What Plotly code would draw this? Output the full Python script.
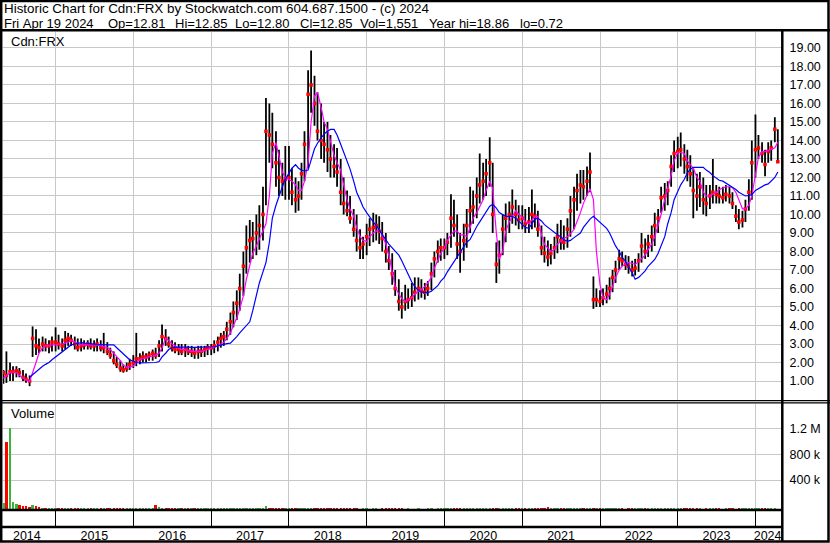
import plotly.graph_objects as go
import pandas as pd

# ---------------- data (semi-monthly bars, May 2014 .. Apr 2024) ----------------
dates = pd.date_range("2014-05-01", periods=240, freq="SMS")

low_2014 = [0.85, 0.9, 1.0, 1.0, 1.2, 1.2, 1.0, 0.9, 0.72, 2.3, 2.4, 2.5, 2.6, 2.6, 2.5, 2.6]
high_2014 = [1.6, 2.6, 2.0, 1.8, 1.8, 1.7, 1.6, 1.4, 1.3, 3.95, 3.8, 3.3, 3.4, 3.3, 3.2, 3.4]
close_2014 = [1.45, 1.3, 1.5, 1.5, 1.55, 1.45, 1.2, 1.1, 1.0, 3.3, 2.9, 2.8, 3.0, 2.9, 2.9, 3.1]

low_2015 = [2.6, 2.7, 2.6, 2.7, 2.9, 2.9, 2.7, 2.6, 2.6, 2.7, 2.7, 2.7, 2.6, 2.6, 2.6, 2.5, 2.4, 2.2, 1.9, 1.7, 1.5, 1.45, 1.5, 1.6]
high_2015 = [3.9, 3.5, 3.3, 3.7, 3.6, 3.5, 3.4, 3.3, 3.3, 3.2, 3.2, 3.3, 3.2, 3.3, 3.2, 3.6, 3.1, 2.8, 2.6, 2.3, 2.1, 1.9, 2.0, 2.2]
close_2015 = [3.1, 3.0, 2.9, 3.2, 3.3, 3.2, 3.0, 2.8, 2.9, 2.95, 3.0, 2.9, 2.9, 3.0, 2.8, 2.8, 2.6, 2.4, 2.1, 1.9, 1.7, 1.6, 1.7, 1.9]

low_2016 = [1.7, 1.8, 1.9, 2.0, 2.0, 2.1, 2.1, 2.2, 2.3, 2.6, 2.9, 2.8, 2.6, 2.5, 2.4, 2.4, 2.3, 2.4, 2.3, 2.2, 2.2, 2.3, 2.3, 2.4]
high_2016 = [2.4, 3.6, 2.5, 2.6, 2.5, 2.6, 2.7, 2.8, 3.2, 4.05, 3.8, 3.4, 3.2, 3.1, 3.0, 3.0, 3.0, 2.9, 2.9, 2.8, 2.9, 2.9, 2.9, 3.0]
close_2016 = [2.0, 2.2, 2.2, 2.3, 2.3, 2.4, 2.5, 2.4, 2.9, 3.4, 3.3, 3.0, 2.8, 2.7, 2.7, 2.6, 2.7, 2.6, 2.6, 2.5, 2.6, 2.6, 2.7, 2.8]

low_2017 = [2.4, 2.5, 2.6, 2.8, 2.9, 3.2, 3.5, 3.9, 4.3, 4.8, 5.6, 6.8, 7.4, 7.6, 7.8, 8.1, 8.6, 10.5, 12.8, 12.5, 11.5, 11.0, 11.0, 10.8]
high_2017 = [3.0, 3.2, 3.4, 3.6, 3.7, 4.2, 4.7, 5.3, 5.9, 6.8, 8.0, 9.4, 9.7, 9.6, 10.0, 10.5, 11.5, 16.3, 16.0, 15.5, 14.5, 13.5, 12.8, 13.7]
close_2017 = [2.8, 2.9, 3.1, 3.3, 3.4, 3.8, 4.2, 4.7, 5.2, 6.0, 7.2, 8.2, 8.6, 8.7, 9.0, 9.4, 10.0, 14.5, 14.3, 13.8, 12.8, 12.0, 11.8, 11.9]

low_2018 = [10.8, 10.5, 10.1, 10.2, 10.8, 11.8, 12.5, 15.5, 14.8, 14.0, 13.0, 12.8, 12.3, 12.0, 12.0, 11.5, 10.5, 10.0, 9.9, 9.5, 8.8, 8.0, 7.6, 7.6]
high_2018 = [13.7, 12.5, 12.0, 11.8, 12.8, 14.5, 17.8, 18.86, 17.5, 16.6, 16.0, 15.0, 15.0, 14.3, 13.8, 13.6, 13.0, 12.0, 11.3, 11.0, 10.3, 10.0, 9.2, 8.8]
close_2018 = [12.0, 11.2, 10.8, 11.0, 12.2, 13.8, 16.5, 17.0, 16.0, 14.5, 14.0, 13.8, 13.5, 13.0, 12.6, 12.3, 11.2, 10.6, 10.2, 9.8, 9.2, 8.6, 8.2, 8.4]

low_2019 = [7.8, 8.3, 8.5, 8.6, 8.4, 8.0, 7.4, 7.0, 6.2, 5.6, 4.8, 4.37, 4.8, 4.9, 5.0, 5.3, 5.4, 5.5, 5.4, 5.6, 5.9, 6.6, 7.4, 7.5]
high_2019 = [9.5, 9.8, 10.1, 10.0, 9.9, 9.6, 9.0, 8.3, 7.9, 7.0, 6.5, 5.8, 6.2, 6.0, 6.3, 6.6, 6.6, 6.5, 6.3, 6.4, 7.4, 8.0, 8.6, 8.7]
close_2019 = [8.8, 9.2, 9.3, 9.4, 9.1, 8.7, 8.0, 7.5, 6.8, 6.0, 5.3, 5.0, 5.3, 5.4, 5.5, 5.8, 6.0, 5.9, 5.8, 6.0, 6.8, 7.6, 8.0, 8.2]

low_2020 = [7.6, 7.8, 8.2, 8.8, 7.6, 6.85, 7.5, 8.2, 9.0, 9.5, 9.8, 10.6, 10.8, 11.0, 11.5, 9.0, 6.3, 6.8, 7.8, 8.5, 9.0, 9.5, 9.4, 9.2]
high_2020 = [8.7, 9.0, 11.1, 10.8, 10.0, 9.0, 9.5, 10.3, 11.5, 11.3, 12.0, 13.3, 12.8, 13.0, 14.17, 12.8, 8.5, 8.6, 10.0, 10.6, 10.7, 11.35, 10.8, 10.5]
close_2020 = [8.2, 8.5, 9.8, 9.4, 8.4, 8.0, 8.6, 9.4, 10.2, 10.4, 11.0, 11.6, 11.8, 12.2, 12.8, 10.0, 7.3, 7.8, 9.2, 9.8, 10.0, 10.4, 10.0, 9.7]

low_2021 = [9.2, 9.0, 9.0, 9.2, 9.3, 8.8, 7.8, 7.4, 7.2, 7.3, 7.6, 7.9, 8.1, 8.1, 8.2, 8.8, 9.2, 10.2, 10.6, 10.8, 11.0, 11.2, 4.9, 5.0]
high_2021 = [10.5, 10.3, 10.4, 11.35, 10.6, 10.2, 9.4, 8.8, 8.6, 8.4, 8.8, 9.5, 9.7, 9.4, 9.8, 11.0, 11.5, 12.2, 12.4, 12.4, 12.6, 13.35, 6.65, 6.0]
close_2021 = [9.8, 9.5, 9.6, 10.0, 9.9, 9.2, 8.2, 7.9, 7.7, 7.9, 8.2, 8.8, 8.6, 8.5, 9.2, 10.2, 10.8, 11.3, 11.6, 11.5, 11.8, 12.3, 5.4, 5.4]

low_2022 = [5.0, 5.1, 5.2, 5.4, 5.8, 6.3, 7.0, 7.2, 7.0, 6.8, 6.65, 6.7, 6.9, 7.4, 7.6, 7.7, 8.0, 8.3, 9.0, 10.1, 10.2, 10.5, 11.5, 12.3]
high_2022 = [5.9, 6.0, 6.2, 6.6, 7.0, 7.5, 8.1, 8.0, 7.8, 7.75, 7.5, 7.6, 7.9, 9.0, 8.7, 8.9, 9.4, 10.1, 10.3, 11.5, 11.7, 11.8, 13.2, 14.0]
close_2022 = [5.3, 5.5, 5.7, 6.0, 6.6, 7.0, 7.6, 7.5, 7.3, 7.2, 7.0, 7.1, 7.5, 8.3, 8.0, 8.4, 8.8, 9.4, 9.8, 10.9, 11.0, 11.3, 12.6, 13.3]

low_2023 = [12.5, 12.6, 12.2, 11.8, 11.5, 9.8, 10.2, 10.4, 10.0, 9.9, 10.3, 10.6, 10.6, 10.6, 10.6, 10.7, 10.6, 10.3, 9.6, 9.2, 9.3, 9.6, 10.2, 10.8]
high_2023 = [14.2, 14.43, 13.8, 13.5, 13.2, 12.5, 12.2, 12.3, 12.0, 11.6, 11.6, 13.0, 11.6, 11.5, 11.5, 11.6, 11.5, 11.2, 10.5, 10.3, 10.2, 10.8, 11.9, 14.0]
close_2023 = [13.4, 13.5, 13.0, 12.6, 12.2, 11.3, 11.0, 11.5, 10.8, 10.6, 11.0, 11.2, 11.1, 11.0, 10.9, 11.1, 11.0, 10.6, 9.9, 9.6, 9.7, 10.3, 11.2, 12.8]

low_2024 = [12.0, 13.0, 12.8, 12.07, 12.8, 12.9, 13.9, 12.8]
high_2024 = [15.4, 14.3, 13.9, 13.5, 13.9, 14.0, 15.25, 14.6]
close_2024 = [13.5, 13.6, 13.3, 12.7, 13.4, 13.6, 14.6, 12.85]

ma_short_2014 = [1.15, 1.3, 1.45, 1.5, 1.45, 1.3, 1.15, 1.05, 0.97, 1.4, 2.0, 2.5, 2.8, 2.9, 2.9, 2.95]
ma_short_2015 = [2.95, 3.0, 3.0, 3.05, 3.1, 3.2, 3.1, 3.0, 2.95, 2.95, 2.95, 2.95, 2.95, 2.95, 2.9, 2.85, 2.8, 2.7, 2.5, 2.3, 2.1, 1.85, 1.75, 1.75]
ma_short_2016 = [1.8, 2.0, 2.15, 2.2, 2.25, 2.3, 2.35, 2.4, 2.5, 2.8, 3.3, 3.2, 3.0, 2.9, 2.8, 2.7, 2.7, 2.65, 2.6, 2.6, 2.6, 2.6, 2.65, 2.7]
ma_short_2017 = [2.75, 2.8, 2.9, 3.0, 3.1, 3.3, 3.6, 4.0, 4.4, 4.9, 5.6, 6.5, 7.3, 7.9, 8.3, 8.7, 9.1, 9.5, 11.0, 13.3, 13.9, 13.2, 12.3, 12.0]
ma_short_2018 = [11.9, 11.8, 11.6, 11.3, 11.3, 11.8, 12.8, 15.0, 16.4, 16.6, 15.8, 15.0, 14.6, 14.0, 13.2, 12.8, 12.4, 11.6, 10.8, 10.3, 9.9, 9.3, 8.8, 8.6]
ma_short_2019 = [8.55, 8.8, 9.0, 9.1, 9.2, 8.9, 8.4, 7.8, 6.9, 6.1, 5.7, 5.45, 5.3, 5.4, 5.5, 5.7, 5.85, 6.0, 6.1, 6.3, 6.6, 7.1, 7.5, 7.9]
ma_short_2020 = [8.2, 8.6, 8.9, 9.1, 9.1, 8.9, 8.9, 8.8, 9.3, 9.8, 10.1, 10.4, 10.8, 11.3, 11.8, 11.4, 9.0, 7.6, 8.0, 9.1, 9.6, 9.9, 10.2, 10.0]
ma_short_2021 = [9.85, 9.6, 9.5, 9.7, 9.9, 9.9, 8.9, 8.4, 8.2, 8.0, 8.1, 8.4, 8.55, 8.7, 8.8, 8.95, 9.2, 9.6, 10.1, 10.6, 11.0, 11.4, 10.8, 8.0]
ma_short_2022 = [6.2, 5.5, 5.4, 5.7, 6.1, 6.6, 7.0, 7.2, 7.35, 7.4, 7.35, 7.3, 7.45, 7.6, 7.8, 8.1, 8.4, 8.8, 9.4, 10.0, 10.8, 11.4, 12.1, 12.9]
ma_short_2023 = [13.35, 13.35, 13.3, 12.9, 12.7, 12.5, 12.0, 11.8, 11.2, 11.0, 11.0, 11.1, 11.2, 11.35, 11.45, 11.5, 11.5, 11.45, 11.2, 10.8, 10.3, 10.3, 10.5, 11.0]
ma_short_2024 = [12.3, 13.1, 13.4, 13.4, 13.45, 13.5, 13.6, 13.9]

ma_long_2014 = [None, None, None, None, None, None, None, None, 1.2, 1.35, 1.5, 1.65, 1.8, 1.9, 2.0, 2.15]
ma_long_2015 = [2.3, 2.45, 2.6, 2.72, 2.85, 2.95, 3.0, 3.05, 3.07, 3.05, 3.02, 3.0, 3.0, 2.98, 2.97, 2.95, 2.95, 2.95, 2.95, 2.8, 2.6, 2.45, 2.3, 2.15]
ma_long_2016 = [2.05, 2.0, 1.98, 1.98, 1.98, 1.98, 1.98, 2.0, 2.05, 2.3, 2.5, 2.7, 2.8, 2.82, 2.83, 2.83, 2.83, 2.82, 2.82, 2.82, 2.83, 2.83, 2.84, 2.85]
ma_long_2017 = [2.85, 2.85, 2.9, 2.95, 3.0, 3.02, 3.05, 3.2, 3.4, 3.6, 3.8, 4.0, 4.2, 4.8, 5.6, 6.3, 6.9, 7.4, 8.5, 9.8, 10.5, 11.0, 11.5, 11.9]
ma_long_2018 = [12.2, 12.5, 12.7, 12.5, 12.4, 12.35, 12.4, 13.0, 13.55, 13.85, 14.1, 14.35, 14.5, 14.6, 14.6, 14.3, 13.8, 13.4, 12.9, 12.45, 11.8, 11.2, 10.8, 10.4]
ma_long_2019 = [10.1, 9.85, 9.6, 9.4, 9.15, 8.9, 8.65, 8.4, 8.2, 8.0, 7.8, 7.5, 7.1, 6.7, 6.35, 6.1, 5.9, 5.8, 5.78, 5.78, 5.85, 6.0, 6.15, 6.4]
ma_long_2020 = [6.6, 6.9, 7.2, 7.45, 7.7, 8.0, 8.3, 8.5, 8.65, 9.0, 9.35, 9.6, 9.9, 10.2, 10.45, 10.55, 10.35, 10.1, 10.0, 9.9, 9.9, 9.9, 9.8, 9.65]
ma_long_2021 = [9.5, 9.3, 9.25, 9.5, 9.75, 9.8, 9.65, 9.45, 9.3, 9.15, 9.0, 8.9, 8.8, 8.65, 8.55, 8.6, 8.75, 8.85, 9.0, 9.3, 9.55, 9.75, 9.9, 9.75]
ma_long_2022 = [9.55, 9.4, 9.25, 9.0, 8.65, 8.3, 8.0, 7.7, 7.45, 7.2, 6.85, 6.5, 6.6, 6.75, 6.95, 7.2, 7.4, 7.57, 7.9, 8.3, 8.8, 9.5, 10.1, 10.8]
ma_long_2023 = [11.2, 11.6, 11.9, 12.25, 12.45, 12.55, 12.55, 12.55, 12.55, 12.4, 12.27, 12.1, 11.95, 11.85, 11.8, 11.7, 11.6, 11.5, 11.35, 11.2, 11.07, 11.0, 11.03, 11.07]
ma_long_2024 = [11.3, 11.4, 11.5, 11.6, 11.65, 11.8, 12.0, 12.3]

# volume in thousands of shares
vol_2014 = [100, 1050, 1260, 110, 90, 75, 60, 55, 45, 70, 50, 40, 30, 25, 20, 22]
vol_2015 = [18, 20, 15, 22, 14, 12, 15, 10, 12, 14, 10, 12, 9, 11, 8, 12, 10, 14, 10, 9, 12, 8, 10, 14]
vol_2016 = [12, 18, 10, 12, 14, 10, 12, 70, 35, 30, 15, 12, 10, 8, 9, 12, 10, 8, 11, 9, 10, 12, 9, 10]
vol_2017 = [8, 10, 12, 9, 10, 14, 12, 15, 10, 12, 14, 12, 15, 10, 12, 14, 20, 60, 25, 18, 15, 12, 14, 10]
vol_2018 = [12, 10, 9, 11, 12, 15, 25, 20, 14, 12, 10, 9, 8, 10, 9, 8, 10, 9, 8, 10, 9, 8, 7, 8]
vol_2019 = [8, 7, 9, 8, 7, 9, 8, 10, 8, 9, 10, 8, 7, 8, 6, 7, 8, 7, 6, 8, 9, 7, 8, 9]
vol_2020 = [8, 9, 12, 10, 9, 11, 8, 9, 10, 8, 9, 10, 9, 11, 12, 25, 18, 10, 9, 8, 9, 10, 8, 9]
vol_2021 = [9, 8, 10, 12, 9, 8, 10, 9, 35, 12, 10, 9, 8, 9, 10, 8, 9, 10, 9, 12, 10, 30, 20, 10]
vol_2022 = [9, 8, 10, 9, 8, 10, 9, 8, 7, 9, 8, 10, 9, 8, 9, 10, 12, 9, 8, 9, 10, 18, 9, 8]
vol_2023 = [10, 9, 8, 10, 12, 8, 9, 8, 7, 9, 8, 10, 9, 8, 7, 8, 9, 8, 7, 9, 8, 9, 10, 9]
vol_2024 = [8, 9, 10, 8, 9, 8, 9, 7]

year_starts = ["2015-01-01", "2016-01-01", "2017-01-01", "2018-01-01", "2019-01-01",
               "2020-01-01", "2021-01-01", "2022-01-01", "2023-01-01", "2024-01-01"]
year_label_pos = ["2014-08-19", "2015-07-02", "2016-07-02", "2017-07-02", "2018-07-02", "2019-07-02",
                  "2020-07-02", "2021-07-02", "2022-07-02", "2023-07-02", "2024-02-27"]
year_labels = ["2014", "2015", "2016", "2017", "2018", "2019", "2020", "2021", "2022", "2023", "2024"]
price_ticks = [1, 2, 3, 4, 5, 6, 7, 8, 9, 10, 11, 12, 13, 14, 15, 16, 17, 18, 19]
vol_ticks = [400, 800, 1200]
vol_tick_labels = ["400 k", "800 k", "1.2 M"]

title_line1 = "Historic Chart for Cdn:FRX by Stockwatch.com 604.687.1500 - (c) 2024"
title_line2_parts = ["Fri Apr 19 2024", "Op=12.81", "Hi=12.85", "Lo=12.80", "Cl=12.85",
                     "Vol=1,551", "Year hi=18.86", "lo=0.72"]
title_line2_left_px = [2, 106, 173, 233, 298, 358, 427, 518]

# ---------------- assemble ----------------
years = ["2014", "2015", "2016", "2017", "2018", "2019", "2020", "2021", "2022", "2023", "2024"]
g = globals()
low = sum((g["low_" + y] for y in years), [])
high = sum((g["high_" + y] for y in years), [])
close = sum((g["close_" + y] for y in years), [])
ma_short = sum((g["ma_short_" + y] for y in years), [])
ma_long = sum((g["ma_long_" + y] for y in years), [])
volume = sum((g["vol_" + y] for y in years), [])

bar_x, bar_y = [], []
for d, lo, hi in zip(dates, low, high):
    bar_x += [d, d, None]
    bar_y += [lo, hi, None]

GREEN = "#3cb43c"
RED = "#ff0000"
vol_colors = [GREEN] + [GREEN if close[i] >= close[i - 1] else RED for i in range(1, len(close))]

W, H = 830, 543
def px(x):
    return x / W
def py(y):
    return 1 - y / H

GRID = "#c8c8c8"
FONT = "Arial, Liberation Sans, sans-serif"
X_DOM = [px(3), px(781)]
X_RANGE = ["2014-04-29", "2024-04-30"]

fig = go.Figure()
fig.add_trace(go.Scatter(x=bar_x, y=bar_y, mode="lines", line=dict(color="black", width=1.8),
                         hoverinfo="skip", xaxis="x", yaxis="y"))
fig.add_trace(go.Scatter(x=dates, y=close, mode="markers",
                         marker=dict(symbol="square", size=3.5, color=RED, line=dict(width=0)),
                         xaxis="x", yaxis="y"))
fig.add_trace(go.Scatter(x=dates, y=ma_short, mode="lines", line=dict(color="#ff00ff", width=1.2),
                         xaxis="x", yaxis="y"))
fig.add_trace(go.Scatter(x=dates, y=ma_long, mode="lines", line=dict(color="#0000ff", width=1.2),
                         connectgaps=False, xaxis="x", yaxis="y"))
fig.add_trace(go.Bar(x=dates, y=volume, base=-48, marker=dict(color=vol_colors, line=dict(width=0)),
                     width=11 * 86400000, xaxis="x2", yaxis="y2"))
fig.add_trace(go.Scatter(x=[dates[0]], y=[0.5], mode="markers", marker=dict(opacity=0),
                         hoverinfo="skip", xaxis="x3", yaxis="y3"))

fig.update_layout(
    width=W, height=H, margin=dict(l=0, r=0, t=0, b=0),
    paper_bgcolor="white", plot_bgcolor="white", showlegend=False,
    font=dict(family=FONT, size=12, color="black"),
    bargap=0,
    xaxis=dict(domain=X_DOM, type="date", range=X_RANGE, anchor="y",
               tickmode="array", tickvals=year_starts, showticklabels=False, ticks="",
               showgrid=True, gridcolor=GRID, gridwidth=1, zeroline=False, showline=False),
    yaxis=dict(domain=[py(400), py(31.5)], range=[-0.027, 19.89], side="right", anchor="x",
               tickmode="array", tickvals=price_ticks, ticktext=[f"{v:.2f}" for v in price_ticks],
               ticks="outside", ticklen=5, tickcolor="rgba(0,0,0,0)", tickfont=dict(size=12.5),
               showgrid=True, gridcolor=GRID, gridwidth=1, zeroline=False, showline=False),
    xaxis2=dict(domain=X_DOM, type="date", range=X_RANGE, matches="x", anchor="y2",
                tickmode="array", tickvals=year_starts, showticklabels=False, ticks="",
                showgrid=True, gridcolor=GRID, gridwidth=1, zeroline=False, showline=False),
    yaxis2=dict(domain=[py(509), py(403.5)], range=[-48, 1585], side="right", anchor="x2",
                tickmode="array", tickvals=vol_ticks, ticktext=vol_tick_labels,
                ticks="outside", ticklen=5, tickcolor="rgba(0,0,0,0)", tickfont=dict(size=12.5),
                showgrid=True, gridcolor=GRID, gridwidth=1, zeroline=False, showline=False),
    xaxis3=dict(domain=X_DOM, type="date", range=X_RANGE, matches="x", anchor="y3",
                tickmode="array", tickvals=year_label_pos, ticktext=year_labels, ticks="",
                tickfont=dict(size=12.5), showgrid=False, zeroline=False, showline=False,
                minor=dict(tickmode="array", tickvals=year_starts, showgrid=True,
                           gridcolor="black", gridwidth=1, ticks="")),
    yaxis3=dict(domain=[py(526), py(511)], range=[0, 1], anchor="x3", showticklabels=False,
                showgrid=False, zeroline=False, showline=False, ticks=""),
)

annotations = [dict(text=title_line1.replace(" ", "\u00a0"), x=px(2), y=py(8.3), size=13.4)]
for part, left in zip(title_line2_parts, title_line2_left_px):
    annotations.append(dict(text=part.replace(" ", "\u00a0"), x=px(left), y=py(23.3), size=13))
annotations += [
    dict(text="Cdn:FRX", x=px(9), y=py(41.7), size=13),
    dict(text="Volume", x=px(9), y=py(413.3), size=13),
]
for a in annotations:
    s = a.pop("size")
    a.update(xref="paper", yref="paper", xanchor="left", yanchor="middle", showarrow=False,
             font=dict(family=FONT, size=s, color="black"))
fig.update_layout(annotations=annotations)

def hline(y, x0, x1, w):
    return dict(type="line", xref="paper", yref="paper", x0=px(x0), x1=px(x1), y0=py(y), y1=py(y),
                line=dict(color="black", width=w))

def vline(x, y0, y1, w):
    return dict(type="line", xref="paper", yref="paper", x0=px(x), x1=px(x), y0=py(y0), y1=py(y1),
                line=dict(color="black", width=w))

shapes = [
    dict(type="rect", xref="paper", yref="paper", x0=px(1.2), x1=px(828.5), y0=py(541.6), y1=py(1.0),
         line=dict(color="black", width=2.5)),
    hline(30.3, 0, 830, 2.5),
    vline(782.3, 30, 542, 2.5),
    hline(400.6, 0, 830, 1.3),
    hline(402.8, 0, 830, 1.3),
    hline(510.0, 0, 782, 2.5),
    hline(527.0, 0, 782, 2.5),
]
fig.update_layout(shapes=shapes)

fig.write_html("out.html", config={"displayModeBar": False},
               post_script="document.body.style.margin='0px';document.body.style.overflow='hidden';")
